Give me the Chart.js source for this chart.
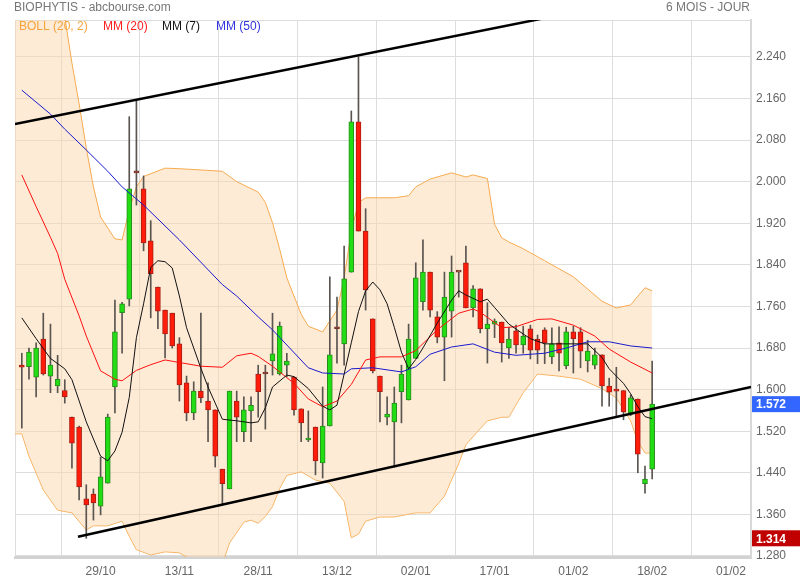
<!DOCTYPE html>
<html>
<head>
<meta charset="utf-8">
<script src="https://cdn.jsdelivr.net/npm/chart.js@4.4.0/dist/chart.umd.min.js"></script>
<style>
html, body { margin: 0; padding: 0; background: #fff; }
</style>
</head>
<body>
<canvas id="myChart" width="800" height="580"></canvas>
<script>
// bougies journalieres, index 0 .. 88
const opens  = [1.647,1.644,1.624,1.697,1.626,1.607,1.598,1.547,1.528,1.390,1.399,1.376,1.420,1.605,1.748,1.774,2.017,1.986,1.886,1.797,
                1.753,1.747,1.688,1.613,1.555,1.597,1.578,1.561,1.447,1.409,1.578,1.519,1.559,1.630,1.630,1.655,1.630,1.647,1.624,1.563,
                1.503,1.528,1.459,1.530,1.717,1.688,1.826,2.115,1.905,1.736,1.626,1.547,1.538,1.596,1.580,1.660,1.769,1.826,1.740,1.701,
                1.751,1.826,1.844,1.757,1.794,1.717,1.726,1.730,1.680,1.713,1.686,1.717,1.697,1.715,1.663,1.690,1.646,1.711,1.711,1.655,
                1.647,1.667,1.607,1.600,1.598,1.555,1.582,1.419,1.447];
const highs  = [1.670,1.680,1.690,1.747,1.726,1.666,1.619,1.547,1.530,1.417,1.409,1.470,1.553,1.772,1.768,2.125,2.157,2.011,1.925,1.797,
                1.753,1.747,1.700,1.626,1.615,1.747,1.613,1.561,1.447,1.597,1.597,1.586,1.586,1.647,1.647,1.747,1.730,1.670,1.624,1.563,
                1.559,1.528,1.605,1.817,1.778,1.876,2.136,2.240,1.948,1.736,1.626,1.586,1.605,1.647,1.726,1.844,1.888,1.826,1.750,1.826,
                1.857,1.826,1.876,1.800,1.794,1.767,1.736,1.730,1.720,1.724,1.722,1.724,1.705,1.719,1.719,1.721,1.720,1.722,1.719,1.695,
                1.680,1.667,1.622,1.643,1.598,1.590,1.582,1.453,1.655];
const lows   = [1.526,1.620,1.586,1.628,1.594,1.594,1.574,1.449,1.388,1.314,1.349,1.359,1.420,1.555,1.670,1.761,1.955,1.867,1.738,1.717,
                1.661,1.680,1.578,1.540,1.542,1.575,1.500,1.451,1.378,1.409,1.500,1.500,1.500,1.547,1.524,1.628,1.628,1.625,1.551,1.500,
                1.500,1.436,1.430,1.530,1.651,1.647,1.826,1.905,1.753,1.632,1.538,1.532,1.451,1.536,1.580,1.660,1.753,1.740,1.690,1.617,
                1.701,1.778,1.757,1.740,1.709,1.651,1.700,1.653,1.660,1.670,1.670,1.659,1.650,1.650,1.650,1.636,1.640,1.632,1.642,1.634,
                1.640,1.568,1.568,1.547,1.542,1.550,1.440,1.401,1.428];
const closes = [1.643,1.672,1.680,1.630,1.647,1.620,1.586,1.497,1.413,1.378,1.382,1.432,1.547,1.711,1.765,1.986,2.017,1.882,1.823,1.751,
                1.707,1.684,1.609,1.555,1.597,1.584,1.561,1.472,1.419,1.597,1.547,1.561,1.570,1.596,1.630,1.669,1.722,1.655,1.561,1.536,
                1.507,1.463,1.530,1.667,1.717,1.813,2.115,1.905,1.792,1.636,1.596,1.553,1.574,1.630,1.697,1.815,1.826,1.753,1.701,1.778,
                1.826,1.826,1.757,1.794,1.717,1.726,1.732,1.690,1.697,1.686,1.703,1.676,1.676,1.690,1.688,1.670,1.711,1.698,1.674,1.674,
                1.667,1.607,1.595,1.597,1.557,1.584,1.476,1.428,1.572];

// moyennes mobiles et bandes : [index, valeur]
const mm7 = [[0,1.738],[2,1.698],[4,1.660],[6,1.640],[7,1.619],[9,1.538],[11,1.472],[12,1.463],[13,1.482],[14,1.518],[15,1.585],
             [16,1.700],[17,1.765],[18,1.835],[19,1.848],[20,1.846],[21,1.834],[22,1.780],[23,1.719],[25,1.641],[26,1.605],[28,1.543],
             [30,1.540],[32,1.536],[33,1.538],[34,1.565],[35,1.605],[37,1.628],[38,1.625],[40,1.602],[42,1.568],[43,1.561],[44,1.570],
             [45,1.630],[46,1.690],[47,1.750],[48,1.790],[49,1.807],[50,1.792],[51,1.765],[52,1.720],[53,1.672],[54,1.640],[55,1.658],
             [56,1.680],[58,1.728],[60,1.772],[61,1.790],[62,1.782],[64,1.769],[65,1.774],[66,1.758],[68,1.726],[70,1.707],[71,1.698],
             [73,1.688],[79,1.688],[81,1.662],[82,1.640],[84,1.612],[85,1.592],[86,1.567],[87,1.548],[88,1.544]];
const mm20 = [[0,2.013],[2,1.952],[4,1.893],[5,1.862],[6,1.812],[8,1.742],[9,1.703],[11,1.636],[13,1.620],[14,1.617],[16,1.637],
              [18,1.648],[20,1.657],[25,1.645],[28,1.643],[30,1.665],[32,1.670],[33,1.664],[35,1.645],[38,1.612],[40,1.582],[42,1.567],
              [44,1.578],[46,1.610],[48,1.657],[50,1.663],[53,1.663],[55,1.675],[58,1.715],[61,1.747],[63,1.755],[64,1.749],[67,1.719],
              [69,1.721],[72,1.735],[74,1.736],[77,1.724],[80,1.703],[82,1.678],[85,1.653],[88,1.632]];
const mm50 = [[0,2.176],[4,2.130],[6,2.101],[9,2.061],[12,2.020],[14,1.990],[17,1.955],[22,1.888],[28,1.802],[30,1.780],[33,1.740],
              [35,1.715],[40,1.642],[42,1.632],[45,1.630],[46,1.640],[49,1.642],[53,1.634],[55,1.644],[57,1.668],[60,1.682],[63,1.688],
              [66,1.672],[69,1.666],[73,1.670],[76,1.680],[79,1.692],[82,1.692],[85,1.684],[88,1.680]];
const bollUp = [[-1,2.450],[2,2.400],[5,2.340],[6,2.317],[7,2.228],[8,2.150],[9,2.065],[10,1.990],[11,1.932],[13,1.890],[14,1.888],
                [15,1.945],[16,1.990],[17,2.010],[20,2.026],[22,2.025],[28,2.020],[30,2.000],[33,1.980],[34,1.960],[35,1.921],[36,1.870],
                [37,1.815],[39,1.745],[40,1.722],[42,1.711],[44,1.753],[45,1.815],[46,1.905],[47,1.960],[48,1.969],[52,1.969],[54,1.973],
                [55,1.990],[57,2.005],[60,2.017],[62,2.009],[63,2.013],[65,2.006],[66,1.918],[67,1.892],[68,1.884],[70,1.871],[73,1.848],
                [77,1.817],[81,1.770],[83,1.757],[85,1.763],[87,1.796],[88,1.790]];
const bollLow = [[-1,1.515],[0,1.515],[1,1.472],[3,1.407],[5,1.368],[7,1.363],[9,1.330],[10,1.338],[12,1.338],[14,1.347],[15,1.318],
                 [16,1.292],[18,1.282],[20,1.288],[22,1.286],[24,1.270],[26,1.255],[28,1.265],[29,1.305],[31,1.345],[32,1.349],[33,1.343],
                 [34,1.356],[35,1.375],[36,1.410],[37,1.435],[39,1.442],[41,1.426],[43,1.420],[45,1.385],[46,1.315],[47,1.322],[48,1.347],
                 [50,1.355],[52,1.355],[55,1.363],[57,1.363],[59,1.395],[61,1.458],[62,1.494],[64,1.525],[65,1.540],[67,1.547],[68,1.547],
                 [70,1.594],[72,1.630],[75,1.626],[78,1.620],[81,1.602],[83,1.584],[85,1.540],[86,1.500],[87,1.478],[88,1.478]];
// droites de tendance
const trendHigh = [[-0.95,2.111],[101.8,2.394]];
const trendLowLine = [[7.84,1.317],[101.8,1.605]];

const dateTicks = [11,22,33,44,55,66,77,88,99];
const dateLabels = ['29/10','13/11','28/11','13/12','02/01','17/01','01/02','18/02','01/02'];
const priceTicks = [1.28,1.36,1.44,1.52,1.60,1.68,1.76,1.84,1.92,2.00,2.08,2.16,2.24];
const lastPrice = 1.572;
const lowPrice = 1.314;

const FONT = '"Liberation Sans", Arial, sans-serif';

function pts(arr) {
    return arr.map(p => ({x: p[0], y: p[1]}));
}

let bodyFill = [];
let bodyBorder = [];
for (let i = 0; i < opens.length; i++) {
    if (closes[i] > opens[i]) {
        bodyFill.push('rgb(34,221,20)');
        bodyBorder.push('rgb(40,140,30)');
    } else if (closes[i] < opens[i]) {
        bodyFill.push('rgb(255,28,10)');
        bodyBorder.push('rgb(170,30,20)');
    } else {
        bodyFill.push('rgb(150,60,45)');
        bodyBorder.push('rgb(120,50,40)');
    }
}

const textPlugin = {
    id: 'texts',
    beforeDatasetsDraw(chart) {
        const ctx = chart.ctx;
        const a = chart.chartArea;
        ctx.save();
        ctx.strokeStyle = '#dddddd';
        ctx.lineWidth = 1;
        ctx.beginPath();
        ctx.moveTo(a.left + 0.5, a.bottom);
        ctx.lineTo(a.left + 0.5, a.top + 0.5);
        ctx.lineTo(a.right, a.top + 0.5);
        ctx.stroke();
        ctx.restore();
    },
    afterDraw(chart) {
        const ctx = chart.ctx;
        const y = chart.scales.y;
        ctx.save();
        ctx.font = '12px ' + FONT;
        ctx.textBaseline = 'middle';
        ctx.fillStyle = '#777777';
        ctx.textAlign = 'left';
        ctx.fillText('BIOPHYTIS - abcbourse.com', 14, 8);
        ctx.textAlign = 'right';
        ctx.fillText('6 MOIS - JOUR', 750, 8);

        ctx.textAlign = 'left';
        ctx.fillStyle = '#f5a43c';
        ctx.fillText('BOLL (20, 2)', 19, 27);
        ctx.fillStyle = '#ff2020';
        ctx.fillText('MM (20)', 103, 27);
        ctx.fillStyle = '#111111';
        ctx.fillText('MM (7)', 162, 27);
        ctx.fillStyle = '#3333dd';
        ctx.fillText('MM (50)', 216, 27);

        const boxes = [[lastPrice, '#3366ff'], [lowPrice, '#c00000']];
        boxes.forEach(b => {
            const py = y.getPixelForValue(b[0]);
            ctx.fillStyle = b[1];
            ctx.fillRect(752, py - 8, 48, 16);
            ctx.fillStyle = '#ffffff';
            ctx.font = 'bold 12px ' + FONT;
            ctx.fillText(b[0].toFixed(3), 756, py + 1);
        });
        ctx.restore();
    }
};

const canvas = document.getElementById('myChart').getContext('2d');
const myChart = new Chart(canvas, {
    type: 'bar',
    data: {
        datasets: [
            {
                type: 'line',
                data: pts(trendHigh),
                borderColor: '#000000',
                borderWidth: 2.5,
                pointRadius: 0,
                order: 0
            },
            {
                type: 'line',
                data: pts(trendLowLine),
                borderColor: '#000000',
                borderWidth: 2.5,
                pointRadius: 0,
                order: 0
            },
            {
                type: 'line',
                data: pts(mm7),
                borderColor: '#111111',
                borderWidth: 1,
                pointRadius: 0,
                order: 2
            },
            {
                type: 'line',
                data: pts(mm20),
                borderColor: '#ff1010',
                borderWidth: 1,
                pointRadius: 0,
                order: 3
            },
            {
                type: 'line',
                data: pts(mm50),
                borderColor: '#1a1acc',
                borderWidth: 1,
                pointRadius: 0,
                order: 4
            },
            {
                data: opens.map((o, i) => ({x: i, y: [o, closes[i]]})),
                backgroundColor: bodyFill,
                borderColor: bodyBorder,
                borderWidth: 1,
                borderSkipped: false,
                barThickness: 5,
                minBarLength: 2,
                grouped: false,
                order: 5
            },
            {
                data: lows.map((l, i) => ({x: i, y: [l, highs[i]]})),
                backgroundColor: '#5a5550',
                borderWidth: 0,
                barThickness: 1,
                grouped: false,
                order: 6
            },
            {
                type: 'line',
                data: pts(bollUp),
                borderColor: '#f7ab50',
                borderWidth: 1,
                pointRadius: 0,
                fill: '+1',
                backgroundColor: 'rgba(251,215,173,0.5)',
                order: 7
            },
            {
                type: 'line',
                data: pts(bollLow),
                borderColor: '#f7ab50',
                borderWidth: 1,
                pointRadius: 0,
                fill: false,
                order: 8
            }
        ]
    },
    options: {
        responsive: false,
        animation: false,
        layout: { padding: { left: 15, top: 20, right: 0, bottom: 0 } },
        plugins: {
            legend: { display: false },
            tooltip: { enabled: false }
        },
        scales: {
            x: {
                type: 'linear',
                min: -0.95,
                max: 101.8,
                offset: false,
                afterBuildTicks: (s) => { s.ticks = dateTicks.map(v => ({value: v})); },
                afterFit: (s) => { s.height = 23; },
                grid: { color: '#dddddd', drawTicks: false },
                border: { display: true, color: '#d2d2d2', width: 3 },
                ticks: {
                    padding: 7,
                    color: '#666666',
                    font: { family: FONT, size: 12 },
                    maxRotation: 0,
                    autoSkip: false,
                    callback: (value, index) => dateLabels[index]
                }
            },
            y: {
                position: 'right',
                min: 1.278,
                max: 2.311,
                afterBuildTicks: (s) => { s.ticks = priceTicks.map(v => ({value: v})); },
                afterFit: (s) => { s.width = 49; },
                grid: { color: '#dddddd', drawTicks: false },
                border: { display: true, color: '#d8d8d8', width: 2 },
                ticks: {
                    padding: 5,
                    color: '#666666',
                    font: { family: FONT, size: 12 },
                    callback: (value) => Number(value).toFixed(3)
                }
            }
        }
    },
    plugins: [textPlugin]
});
</script>
</body>
</html>
